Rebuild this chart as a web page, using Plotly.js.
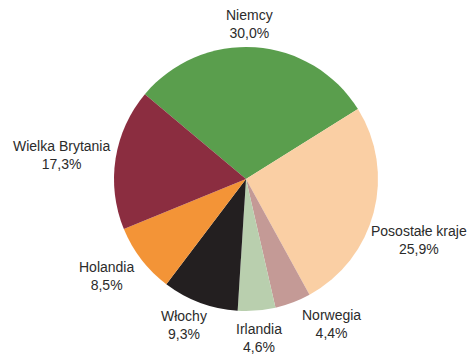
<!DOCTYPE html>
<html><head><meta charset="utf-8">
<script src="https://cdn.plot.ly/plotly-3.0.1.min.js"></script>
<style>html,body{margin:0;padding:0;background:#fff;}#chart{width:470px;height:355px;}</style>
</head><body><div id="chart"></div>
<script>
const categories = ["Niemcy", "Posostałe kraje", "Norwegia", "Irlandia", "Włochy", "Holandia", "Wielka Brytania"];
const values = [30.0, 25.9, 4.4, 4.6, 9.3, 8.5, 17.3];
const colors = ["#5a9e4d", "#facfa4", "#c49a96", "#b9cfae", "#231f20", "#f39437", "#8b2d40"];

// label block centres, in pixels from the top-left of the 470x355 page
const labelPos = [[249, 24], [419, 240], [331, 324], [259, 338], [184, 325], [106, 276], [61, 155]];

const W = 470, H = 355;
const annotations = categories.map((c, i) => ({
  text: c + "<br>" + values[i].toFixed(1).replace(".", ",") + "%",
  xref: "paper", yref: "paper",
  x: labelPos[i][0] / W, y: 1 - labelPos[i][1] / H,
  xanchor: "center", yanchor: "middle",
  showarrow: false,
  font: {family: "Liberation Sans Narrow, Arial Narrow, sans-serif", size: 14, color: "#2b2b2b"}
}));

Plotly.newPlot("chart", [{
  type: "pie",
  labels: categories,
  values: values,
  sort: false,
  direction: "clockwise",
  rotation: -50,
  marker: {colors: colors, line: {width: 0}},
  textinfo: "none",
  hoverinfo: "none",
  domain: {x: [114 / W, 378 / W], y: [1 - 311 / H, 1 - 47 / H]},
  showlegend: false
}], {
  width: W, height: H,
  margin: {l: 0, r: 0, t: 0, b: 0},
  paper_bgcolor: "#fff",
  showlegend: false,
  annotations: annotations
}, {displayModeBar: false, staticPlot: true});
</script></body></html>
